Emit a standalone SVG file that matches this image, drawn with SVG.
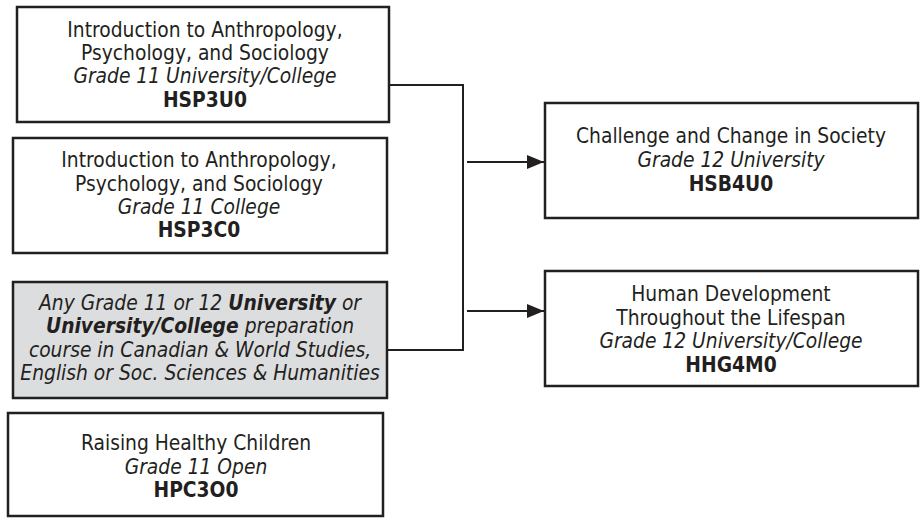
<svg xmlns="http://www.w3.org/2000/svg" width="921" height="518" viewBox="0 0 921 518">
  <style>
    .box { fill: #ffffff; stroke: #231f20; stroke-width: 2.5; }
    .gray { fill: #dcdddf; }
    text { font-family: "DejaVu Sans Condensed", "DejaVu Sans", Verdana, sans-serif; font-stretch: condensed; font-size: 20.8px; fill: #231f20; text-anchor: middle; }
    .it { font-style: italic; }
    .b { font-weight: bold; }
    .conn { fill: none; stroke: #231f20; stroke-width: 2; }
  </style>
  <defs>
    <marker id="arrow" markerUnits="userSpaceOnUse" markerWidth="18" markerHeight="14" refX="17" refY="7" orient="auto">
      <path d="M0,0 L17,7 L0,14 Z" fill="#231f20"/>
    </marker>
  </defs>
  <rect width="921" height="518" fill="#ffffff"/>

  <g id="connectors">
    <path class="conn" d="M387,85 H463 V350 H384"/>
    <path class="conn" d="M467,162 H544" marker-end="url(#arrow)"/>
    <path class="conn" d="M467,311 H544" marker-end="url(#arrow)"/>
  </g>

  <g id="hsp3u0">
    <rect class="box" x="17" y="7" width="372" height="115"/>
    <text x="205" y="37">Introduction to Anthropology,</text>
    <text x="205" y="60">Psychology, and Sociology</text>
    <text x="205" y="83" class="it">Grade 11 University/College</text>
    <text x="205" y="106.5" class="b">HSP3U0</text>
  </g>

  <g id="hsp3c0">
    <rect class="box" x="13" y="138" width="374" height="115"/>
    <text x="199" y="167">Introduction to Anthropology,</text>
    <text x="199" y="190.5">Psychology, and Sociology</text>
    <text x="199" y="213.5" class="it">Grade 11 College</text>
    <text x="199" y="237" class="b">HSP3C0</text>
  </g>

  <g id="any-grade-11-12">
    <rect class="box gray" x="13" y="282" width="374" height="116"/>
    <text x="200" y="310" class="it">Any Grade 11 or 12 <tspan class="b">University</tspan> or</text>
    <text x="200" y="333" class="it"><tspan class="b">University/College</tspan> preparation</text>
    <text x="200" y="356.5" class="it">course in Canadian &amp; World Studies,</text>
    <text x="200" y="380" class="it">English or Soc. Sciences &amp; Humanities</text>
  </g>

  <g id="hpc3o0">
    <rect class="box" x="8" y="413" width="375" height="103"/>
    <text x="196" y="450">Raising Healthy Children</text>
    <text x="196" y="473.5" class="it">Grade 11 Open</text>
    <text x="196" y="497" class="b">HPC3O0</text>
  </g>

  <g id="hsb4u0">
    <rect class="box" x="545" y="103" width="373" height="115"/>
    <text x="731" y="143">Challenge and Change in Society</text>
    <text x="731" y="167" class="it">Grade 12 University</text>
    <text x="731" y="191" class="b">HSB4U0</text>
  </g>

  <g id="hhg4m0">
    <rect class="box" x="545" y="271" width="373" height="115"/>
    <text x="731" y="301">Human Development</text>
    <text x="731" y="324.5">Throughout the Lifespan</text>
    <text x="731" y="348" class="it">Grade 12 University/College</text>
    <text x="731" y="371.5" class="b">HHG4M0</text>
  </g>
</svg>
